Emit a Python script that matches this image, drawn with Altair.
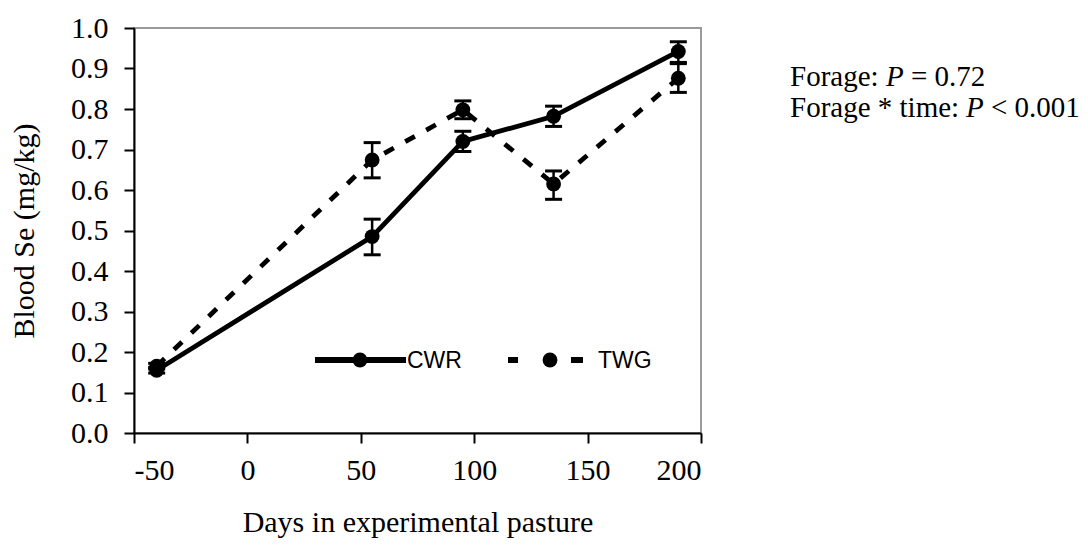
import altair as alt
import pandas as pd

days = [-40, 55, 95, 135, 190]
cwr = [0.155, 0.485, 0.720, 0.782, 0.942]
cwr_lo = [0.148, 0.440, 0.695, 0.757, 0.915]
cwr_hi = [0.162, 0.528, 0.745, 0.807, 0.966]
twg = [0.165, 0.674, 0.798, 0.615, 0.876]
twg_lo = [0.158, 0.630, 0.776, 0.577, 0.841]
twg_hi = [0.172, 0.717, 0.820, 0.647, 0.912]

x_ticks = [-50, 0, 50, 100, 150, 200]
y_ticks = [0.0, 0.1, 0.2, 0.3, 0.4, 0.5, 0.6, 0.7, 0.8, 0.9, 1.0]

df_c = pd.DataFrame({"day": days, "v": cwr, "lo": cwr_lo, "hi": cwr_hi})
df_t = pd.DataFrame({"day": days, "v": twg, "lo": twg_lo, "hi": twg_hi})

SERIF = "Liberation Serif"
SANS = "Liberation Sans"

xs = alt.Scale(domain=[-50, 200], nice=False, zero=False)
ys = alt.Scale(domain=[0, 1], nice=False)

x_enc = alt.X("day:Q", scale=xs, axis=alt.Axis(
    values=x_ticks, labelExpr="'' + datum.value", title="Days in experimental pasture",
    titlePadding=22, labelPadding=12))
y_enc = alt.Y("v:Q", scale=ys, axis=alt.Axis(
    values=y_ticks, labelExpr="format(datum.value, '.1f')", title="Blood Se (mg/kg)",
    titlePadding=31, labelPadding=16))


def series(df, dash):
    base = alt.Chart(df)
    rule = base.mark_rule(color="black", strokeWidth=2.5, opacity=1).encode(
        x=alt.X("day:Q", scale=xs), y=alt.Y("lo:Q", scale=ys), y2="hi:Q")
    cap_lo = base.mark_tick(color="black", thickness=3, size=17, orient="horizontal", opacity=1).encode(
        x=alt.X("day:Q", scale=xs), y=alt.Y("lo:Q", scale=ys))
    cap_hi = base.mark_tick(color="black", thickness=3, size=17, orient="horizontal", opacity=1).encode(
        x=alt.X("day:Q", scale=xs), y=alt.Y("hi:Q", scale=ys))
    line_kw = dict(color="black", strokeWidth=4.8)
    if dash:
        line_kw["strokeDash"] = [11, 13]
    line = base.mark_line(**line_kw).encode(x=x_enc, y=y_enc)
    pts = base.mark_point(filled=True, color="black", size=220, opacity=1).encode(
        x=alt.X("day:Q", scale=xs), y=alt.Y("v:Q", scale=ys))
    return [line, rule, cap_lo, cap_hi, pts]


layers = series(df_t, True) + series(df_c, False)

# legend (inside plot)
leg = pd.DataFrame({"k": [0]})
lb = alt.Chart(leg)
LY = 332
legend_layers = [
    lb.mark_rule(color="black", strokeWidth=6).encode(x=alt.value(181), x2=alt.value(272), y=alt.value(LY)),
    lb.mark_point(filled=True, color="black", size=220, opacity=1).encode(x=alt.value(226), y=alt.value(LY)),
    lb.mark_text(text="CWR", font=SANS, fontSize=23, align="left", baseline="middle", color="black").encode(
        x=alt.value(273), y=alt.value(LY + 1)),
    lb.mark_rule(color="black", strokeWidth=6).encode(x=alt.value(374), x2=alt.value(384), y=alt.value(LY)),
    lb.mark_rule(color="black", strokeWidth=6).encode(x=alt.value(437), x2=alt.value(449), y=alt.value(LY)),
    lb.mark_point(filled=True, color="black", size=220, opacity=1).encode(x=alt.value(416), y=alt.value(LY)),
    lb.mark_text(text="TWG", font=SANS, fontSize=23, align="left", baseline="middle", color="black").encode(
        x=alt.value(464), y=alt.value(LY + 1)),
]

# annotations (outside plot, right)
AX = 656
FS = 29
def t(txt, x, y, italic=False):
    kw = dict(text=txt, font=SERIF, fontSize=FS, align="left", baseline="alphabetic", color="black")
    if italic:
        kw["fontStyle"] = "italic"
    return lb.mark_text(**kw).encode(x=alt.value(x), y=alt.value(y))

ann_layers = [
    t("Forage:", AX, 58),
    t("P", AX + 96, 58, True),
    t("= 0.72", AX + 96 + 25, 58),
    t("Forage * time:", AX, 89),
    t("P", AX + 176, 89, True),
    t("< 0.001", AX + 176 + 25, 89),
]

chart = alt.layer(*layers, *legend_layers, *ann_layers).properties(
    width=567, height=405,
    autosize=alt.AutoSizeParams(type="none"),
    padding={"left": 126, "top": 20, "right": 379, "bottom": 108},
).configure_view(
    stroke="#9a9a9a", strokeWidth=2
).configure_axis(
    grid=False, domainColor="black", domainWidth=2, tickColor="black", tickWidth=2,
    tickSize=10, labelFont=SERIF, labelFontSize=30, labelColor="black",
    titleFont=SERIF, titleFontSize=30, titleFontWeight="normal", titleColor="black",
)

chart.save("out.html", embed_options={"renderer": "svg", "actions": False})
